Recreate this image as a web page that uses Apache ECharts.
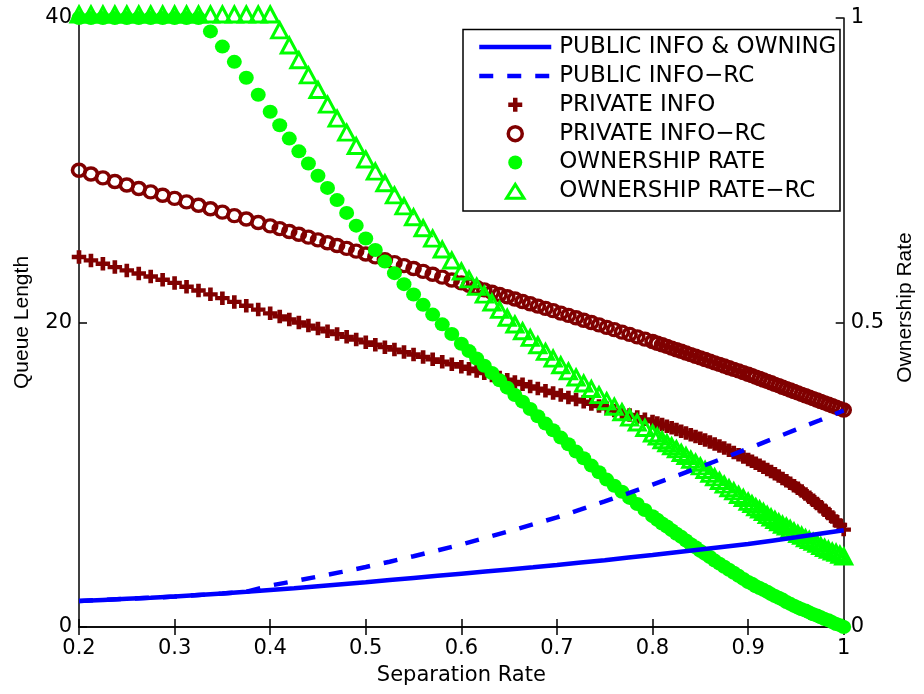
<!DOCTYPE html>
<html>
<head>
<meta charset="utf-8">
<script src="https://cdn.jsdelivr.net/npm/echarts/dist/echarts.min.js"></script>
<style>
html,body{margin:0;padding:0;background:#fff;}
#chart{width:924px;height:694px;}
</style>
</head>
<body>
<div id="chart"></div>
<script>
// ---- data ----
// separation-rate samples of the marker series (the sampling gets finer towards 1)
const sepRate = [
  0.2, 0.2125, 0.225, 0.2375, 0.25, 0.2625, 0.275, 0.2875, 0.3, 0.3125, 0.325, 0.3375, 0.35, 0.3625, 0.375, 0.3875,
  0.4, 0.41, 0.42, 0.43, 0.44, 0.45, 0.46, 0.47, 0.48, 0.49, 0.5, 0.51, 0.52, 0.53, 0.54, 0.55, 0.56, 0.57, 0.58, 0.59,
  0.6, 0.608, 0.616, 0.624, 0.632, 0.64, 0.648, 0.656, 0.664, 0.672, 0.68, 0.688, 0.696, 0.704, 0.712, 0.72, 0.728, 0.736, 0.744, 0.752, 0.76, 0.768, 0.776, 0.784, 0.792,
  0.8, 0.805, 0.81, 0.815, 0.82, 0.825, 0.83, 0.835, 0.84, 0.845, 0.85, 0.855, 0.86, 0.865, 0.87, 0.875, 0.88, 0.885, 0.89, 0.895,
  0.9, 0.904, 0.908, 0.912, 0.916, 0.92, 0.924, 0.928, 0.932, 0.936, 0.94, 0.944, 0.948, 0.952, 0.956, 0.96, 0.964, 0.968, 0.972, 0.976, 0.98, 0.984, 0.988, 0.992, 0.996, 1.0];

const privateInfo = [
  24.3, 24.08, 23.86, 23.64, 23.42, 23.22, 23.02, 22.81, 22.6, 22.35, 22.1, 21.85, 21.6, 21.35, 21.1, 20.85,
  20.6, 20.4, 20.2, 20.0, 19.8, 19.6, 19.42, 19.24, 19.06, 18.88, 18.7, 18.54, 18.38, 18.22, 18.06, 17.9, 17.74, 17.58, 17.42, 17.26,
  17.1, 16.96, 16.81, 16.67, 16.52, 16.38, 16.24, 16.09, 15.95, 15.8, 15.66, 15.52, 15.37, 15.23, 15.08, 14.94, 14.8, 14.65, 14.51, 14.36, 14.22, 14.08, 13.93, 13.79, 13.64,
  13.5, 13.4, 13.3, 13.19, 13.08, 12.97, 12.86, 12.75, 12.63, 12.52, 12.4, 12.28, 12.15, 12.02, 11.89, 11.75, 11.61, 11.46, 11.31, 11.16,
  11.0, 10.88, 10.75, 10.62, 10.49, 10.35, 10.21, 10.06, 9.91, 9.76, 9.6, 9.44, 9.28, 9.11, 8.93, 8.73, 8.53, 8.32, 8.11, 7.9, 7.67, 7.45, 7.22, 6.97, 6.7, 6.4];

const privateRC = [
  30.0, 29.75, 29.5, 29.26, 29.03, 28.8, 28.58, 28.36, 28.15, 27.92, 27.7, 27.47, 27.25, 27.02, 26.8, 26.57,
  26.35, 26.17, 25.98, 25.8, 25.61, 25.43, 25.24, 25.06, 24.87, 24.69, 24.5, 24.31, 24.12, 23.93, 23.74, 23.55, 23.36, 23.17, 22.98, 22.79,
  22.6, 22.45, 22.3, 22.14, 21.99, 21.84, 21.69, 21.54, 21.38, 21.23, 21.08, 20.93, 20.78, 20.62, 20.47, 20.31, 20.15, 20.0, 19.84, 19.68, 19.53, 19.37, 19.22, 19.06, 18.91,
  18.75, 18.64, 18.54, 18.43, 18.32, 18.21, 18.11, 18.0, 17.89, 17.78, 17.68, 17.57, 17.46, 17.35, 17.25, 17.14, 17.03, 16.92, 16.82, 16.71,
  16.6, 16.51, 16.41, 16.32, 16.22, 16.13, 16.04, 15.94, 15.85, 15.75, 15.66, 15.57, 15.47, 15.38, 15.28, 15.19, 15.1, 15.0, 14.91, 14.81, 14.72, 14.63, 14.53, 14.44, 14.34, 14.25];

const ownership = [
  1, 1, 1, 1, 1, 1, 1, 1, 1, 1, 1, 0.978, 0.953, 0.928, 0.902, 0.874,
  0.846, 0.824, 0.802, 0.781, 0.761, 0.741, 0.721, 0.701, 0.68, 0.659, 0.638, 0.619, 0.6, 0.581, 0.563, 0.546, 0.529, 0.513, 0.497, 0.481,
  0.465, 0.453, 0.441, 0.429, 0.417, 0.405, 0.393, 0.381, 0.37, 0.358, 0.346, 0.334, 0.323, 0.311, 0.3, 0.288, 0.277, 0.265, 0.254, 0.242, 0.232, 0.222, 0.212, 0.202, 0.192,
  0.182, 0.176, 0.17, 0.165, 0.159, 0.153, 0.148, 0.142, 0.136, 0.131, 0.125, 0.12, 0.115, 0.109, 0.104, 0.099, 0.094, 0.089, 0.084, 0.079,
  0.074, 0.071, 0.067, 0.064, 0.061, 0.058, 0.054, 0.051, 0.048, 0.045, 0.041, 0.038, 0.035, 0.032, 0.029, 0.027, 0.024, 0.021, 0.019, 0.016, 0.013, 0.011, 0.008, 0.005, 0.003, 0];

const ownershipRC = [
  1, 1, 1, 1, 1, 1, 1, 1, 1, 1, 1, 1, 1, 1, 1, 1,
  1, 0.974, 0.949, 0.925, 0.9, 0.876, 0.852, 0.829, 0.806, 0.784, 0.762, 0.742, 0.723, 0.703, 0.685, 0.667, 0.649, 0.632, 0.614, 0.596,
  0.578, 0.565, 0.553, 0.54, 0.527, 0.515, 0.502, 0.491, 0.48, 0.469, 0.457, 0.446, 0.435, 0.424, 0.414, 0.404, 0.394, 0.385, 0.375, 0.365, 0.356, 0.347, 0.338, 0.33, 0.321,
  0.312, 0.307, 0.301, 0.296, 0.291, 0.286, 0.28, 0.275, 0.269, 0.264, 0.258, 0.252, 0.246, 0.24, 0.234, 0.228, 0.222, 0.217, 0.211, 0.206,
  0.2, 0.196, 0.191, 0.187, 0.183, 0.178, 0.174, 0.17, 0.166, 0.162, 0.159, 0.155, 0.151, 0.147, 0.144, 0.14, 0.137, 0.134, 0.131, 0.127, 0.124, 0.121, 0.118, 0.116, 0.113, 0.11];

// separation-rate samples of the two line series
const lineRate = [0.2, 0.225, 0.25, 0.275, 0.3, 0.325, 0.35, 0.375, 0.4, 0.425, 0.45, 0.475, 0.5, 0.525, 0.55, 0.575, 0.6, 0.625, 0.65, 0.675, 0.7, 0.725, 0.75, 0.775, 0.8, 0.825, 0.85, 0.875, 0.9, 0.925, 0.95, 0.975, 1.0];
const publicInfo = [1.71, 1.78, 1.85, 1.92, 2.0, 2.1, 2.2, 2.31, 2.43, 2.55, 2.68, 2.81, 2.94, 3.08, 3.22, 3.36, 3.5, 3.64, 3.78, 3.92, 4.07, 4.23, 4.39, 4.56, 4.73, 4.91, 5.09, 5.27, 5.45, 5.67, 5.89, 6.12, 6.35];
const publicRC = [1.71, 1.78, 1.85, 1.92, 2.0, 2.1, 2.2, 2.31, 2.72, 3.01, 3.31, 3.62, 3.94, 4.29, 4.65, 5.03, 5.42, 5.85, 6.29, 6.74, 7.2, 7.72, 8.25, 8.79, 9.35, 9.93, 10.51, 11.11, 11.72, 12.34, 12.96, 13.58, 14.22];

const seriesNames = ['PUBLIC INFO & OWNING', 'PUBLIC INFO\u2212RC', 'PRIVATE INFO', 'PRIVATE INFO\u2212RC', 'OWNERSHIP RATE', 'OWNERSHIP RATE\u2212RC'];
const xTicks = {min: 0.2, max: 1, interval: 0.1};
const yLeftTicks = {min: 0, max: 40, interval: 20};
const yRightTicks = {min: 0, max: 1, interval: 0.5};

// ---- chart ----
const pair = (xs, arr) => xs.map((x, i) => [x, arr[i]]);
const BLUE = '#0000ff', RED = '#800000', GREEN = '#00ff00';
const NONE = 'rgba(0,0,0,0)';
const PLUS = 'path://M0,3.4H3.4V0H6.6V3.4H10V6.6H6.6V10H3.4V6.6H0Z';
const TRI = 'path://M5,0L10,8L0,8Z';
const tickFont = {color: '#000', fontSize: 21, fontFamily: 'DejaVu Sans'};
const axisLineStyle = {color: '#000', width: 1.5};

const chart = echarts.init(document.getElementById('chart'), null, {renderer: 'canvas'});

const option = {
  animation: false,
  backgroundColor: '#fff',
  grid: {left: 79, top: 18, width: 771, height: 609},
  legend: {
    orient: 'vertical', left: 477, top: 35.6, padding: 0,
    itemWidth: 72, itemHeight: 14, itemGap: 5.85, selectedMode: false, z: 6,
    textStyle: {color: '#000', fontSize: 23, fontFamily: 'DejaVu Sans', padding: [0, 0, 0, 3]},
    data: [
      {name: seriesNames[0], itemStyle: {color: NONE, borderWidth: 0}, lineStyle: {width: 4.5}},
      {name: seriesNames[1], itemStyle: {color: NONE, borderWidth: 0}, lineStyle: {width: 4.5}},
      {name: seriesNames[2]},
      {name: seriesNames[3], itemStyle: {borderWidth: 3.5}},
      {name: seriesNames[4]},
      {name: seriesNames[5], itemStyle: {borderWidth: 3}}
    ]
  },
  graphic: [{
    type: 'rect', z: 5,
    shape: {x: 463, y: 29.5, width: 377, height: 181.5},
    style: {fill: '#fff', stroke: '#000', lineWidth: 1.5}
  }],
  xAxis: [
    {type: 'value', position: 'bottom', min: xTicks.min, max: xTicks.max, interval: xTicks.interval,
     axisLine: {lineStyle: axisLineStyle}, axisTick: {inside: true, length: 8, lineStyle: axisLineStyle},
     axisLabel: Object.assign({margin: 11}, tickFont), splitLine: {show: false},
     name: 'Separation Rate', nameLocation: 'middle', nameGap: 38, nameTextStyle: tickFont},
    {type: 'value', position: 'top', min: xTicks.min, max: xTicks.max, interval: xTicks.interval,
     axisLine: {lineStyle: axisLineStyle}, axisTick: {inside: true, length: 8, lineStyle: axisLineStyle},
     axisLabel: {show: false}, splitLine: {show: false}}
  ],
  yAxis: [
    {type: 'value', position: 'left', min: yLeftTicks.min, max: yLeftTicks.max, interval: yLeftTicks.interval,
     axisLine: {show: true, lineStyle: axisLineStyle}, axisTick: {show: true, inside: true, length: 8, lineStyle: axisLineStyle},
     axisLabel: Object.assign({margin: 7}, tickFont), splitLine: {show: false},
     name: 'Queue Length', nameLocation: 'middle', nameGap: 46, nameRotate: 90,
     nameTextStyle: {color: '#000', fontSize: 21, fontFamily: 'Liberation Sans'}},
    {type: 'value', position: 'right', min: yRightTicks.min, max: yRightTicks.max, interval: yRightTicks.interval,
     axisLine: {show: true, lineStyle: axisLineStyle}, axisTick: {show: true, inside: true, length: 8, lineStyle: axisLineStyle},
     axisLabel: Object.assign({margin: 7}, tickFont), splitLine: {show: false},
     name: 'Ownership Rate', nameLocation: 'middle', nameGap: 47, nameRotate: 90,
     nameTextStyle: {color: '#000', fontSize: 21, fontFamily: 'Liberation Sans', padding: [0, 0, 0, 30]}}
  ],
  series: [
    {name: seriesNames[2], type: 'scatter', xAxisIndex: 0, yAxisIndex: 0, z: 1, clip: false,
     symbol: PLUS, symbolSize: [14.5, 13.5], itemStyle: {color: RED, opacity: 1}, data: pair(sepRate, privateInfo)},
    {name: seriesNames[3], type: 'scatter', xAxisIndex: 0, yAxisIndex: 0, z: 1, clip: false,
     symbol: 'circle', symbolSize: [13, 12],
     itemStyle: {color: NONE, borderColor: RED, borderWidth: 3.5, opacity: 1}, data: pair(sepRate, privateRC)},
    {name: seriesNames[5], type: 'scatter', xAxisIndex: 0, yAxisIndex: 1, z: 2, clip: false,
     symbol: TRI, symbolSize: [16, 15], symbolOffset: [0, -3.5],
     itemStyle: {color: NONE, borderColor: GREEN, borderWidth: 3, opacity: 1}, data: pair(sepRate, ownershipRC)},
    {name: seriesNames[4], type: 'scatter', xAxisIndex: 0, yAxisIndex: 1, z: 2, clip: false,
     symbol: 'circle', symbolSize: [15, 14], itemStyle: {color: GREEN, opacity: 1}, data: pair(sepRate, ownership)},
    {name: seriesNames[0], type: 'line', xAxisIndex: 0, yAxisIndex: 0, z: 3, symbol: 'none',
     lineStyle: {color: BLUE, width: 4.5}, itemStyle: {color: BLUE}, data: pair(lineRate, publicInfo)},
    {name: seriesNames[1], type: 'line', xAxisIndex: 0, yAxisIndex: 0, z: 3, symbol: 'none',
     lineStyle: {color: BLUE, width: 4.5, type: [14, 14]}, itemStyle: {color: BLUE}, data: pair(lineRate, publicRC)}
  ]
};
chart.setOption(option);
</script>
</body>
</html>
